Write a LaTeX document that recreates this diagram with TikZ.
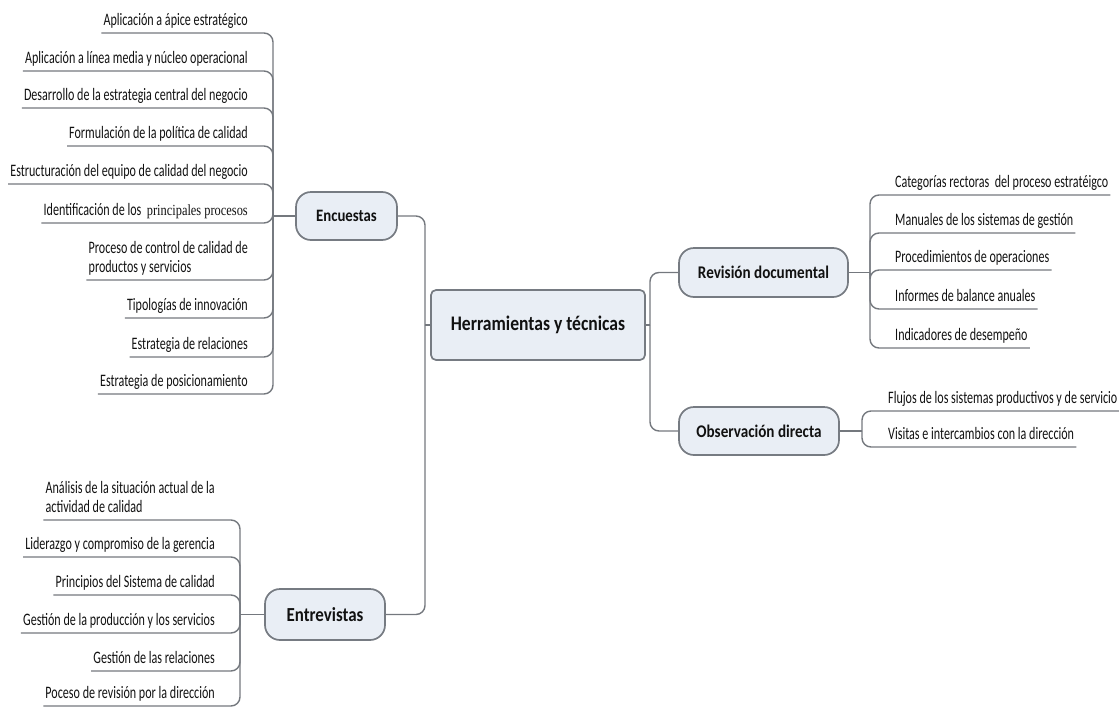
\documentclass[tikz,border=0pt]{standalone}
\usepackage{fontspec}
\setmainfont{Carlito}[FakeStretch=0.69, BoldFeatures={FakeStretch=0.85}]
\newfontfamily\serifpart{Liberation Serif}[FakeStretch=0.8]
\usetikzlibrary{positioning}

\definecolor{boxfill}{HTML}{E9EEF5}
\definecolor{boxline}{HTML}{767B82}
\definecolor{branchgray}{HTML}{74787E}
\definecolor{inktext}{HTML}{111111}

\tikzset{
  rootbox/.style={draw=boxline, fill=boxfill, line width=1.7pt, rounded corners=5pt,
    minimum width=214pt, minimum height=70pt, text=inktext,
    font=\fontsize{20.7}{24}\selectfont\bfseries},
  topicbox/.style={draw=boxline, fill=boxfill, line width=1.7pt, rounded corners=15pt,
    minimum height=48pt, text=inktext, font=\fontsize{17.8}{21}\selectfont\bfseries},
  leafl/.style={anchor=south east, align=left, inner xsep=2pt, inner ysep=3pt,
    text depth=4pt, text=inktext, font=\fontsize{17.5}{19}\selectfont},
  leafr/.style={leafl, anchor=south west},
  branch/.style={draw=branchgray, line width=1.4pt, rounded corners=9pt}
}

\begin{document}
\begin{tikzpicture}[x=1pt,y=-1pt]
\useasboundingbox (0,0) rectangle (1119,707);

% central topic
\node[rootbox] (root) at (538,325) {Herramientas y técnicas};

% main branches
\node[topicbox, minimum width=101pt, font=\fontsize{17.4}{20}\selectfont\bfseries] (enc) at (346.5,216) {Encuestas};
\node[topicbox, minimum width=120pt, minimum height=51pt, font=\fontsize{19.9}{23}\selectfont\bfseries] (ent) at (325,614.5) {Entrevistas};
\node[topicbox, minimum width=169pt, minimum height=49pt] (rev) at (763.5,272.5) {Revisión documental};
\node[topicbox, minimum width=160pt] (obs) at (759,431) {Observación directa};

\coordinate (lj) at (425,325);
\coordinate (rj) at (650,325);
\draw[branch] (root.west) -- (lj);
\draw[branch] (lj) |- (enc.east);
\draw[branch] (lj) |- (ent.east);
\draw[branch] (root.east) -- (rj);
\draw[branch] (rj) |- (rev.west);
\draw[branch] (rj) |- (obs.west);

% Encuestas
\coordinate (encj) at (273,216);
\draw[branch] (enc.west) -- (encj);
\node[leafl] (enc1) at (250,33) {Aplicación a ápice estratégico};
\node[leafl] (enc2) at (250,71) {Aplicación a línea media y núcleo operacional};
\node[leafl] (enc3) at (250,108) {Desarrollo de la estrategia central del negocio};
\node[leafl] (enc4) at (250,146) {Formulación de la política de calidad};
\node[leafl] (enc5) at (250,184) {Estructuración del equipo de calidad del negocio};
\node[leafl] (enc6) at (250,223) {Identificación de los\ \ {\serifpart\fontsize{15.5}{17}\selectfont principales procesos}};
\node[leafl] (enc7) at (250,280) {Proceso de control de calidad de\\productos y servicios};
\node[leafl] (enc8) at (250,318) {Tipologías de innovación};
\node[leafl] (enc9) at (250,357) {Estrategia de relaciones};
\node[leafl] (enc10) at (250,394) {Estrategia de posicionamiento};
\draw[branch] (encj) |- (enc1.south west);
\draw[branch] (encj) |- (enc2.south west);
\draw[branch] (encj) |- (enc3.south west);
\draw[branch] (encj) |- (enc4.south west);
\draw[branch] (encj) |- (enc5.south west);
\draw[branch] (encj) |- (enc6.south west);
\draw[branch] (encj) |- (enc7.south west);
\draw[branch] (encj) |- (enc8.south west);
\draw[branch] (encj) |- (enc9.south west);
\draw[branch] (encj) |- (enc10.south west);

% Entrevistas
\coordinate (entj) at (240,614.5);
\draw[branch] (ent.west) -- (entj);
\node[leafl] (ent1) at (217,520) {Análisis de la situación actual de la\\actividad de calidad};
\node[leafl] (ent2) at (217,557) {Liderazgo y compromiso de la gerencia};
\node[leafl] (ent3) at (217,595) {Principios del Sistema de calidad};
\node[leafl] (ent4) at (217,633) {Gestión de la producción y los servicios};
\node[leafl] (ent5) at (217,671) {Gestión de las relaciones};
\node[leafl] (ent6) at (217,706) {Poceso de revisión por la dirección};
\draw[branch] (entj) |- (ent1.south west);
\draw[branch] (entj) |- (ent2.south west);
\draw[branch] (entj) |- (ent3.south west);
\draw[branch] (entj) |- (ent4.south west);
\draw[branch] (entj) |- (ent5.south west);
\draw[branch] (entj) |- (ent6.south west);

% Revision documental
\coordinate (revj) at (870,272.5);
\draw[branch] (rev.east) -- (revj);
\node[leafr] (rev1) at (893,195) {Categorías rectoras\ \ del proceso estratéigco};
\node[leafr] (rev2) at (893,233) {Manuales de los sistemas de gestión};
\node[leafr] (rev3) at (893,270) {Procedimientos de operaciones};
\node[leafr] (rev4) at (893,309) {Informes de balance anuales};
\node[leafr] (rev5) at (893,348) {Indicadores de desempeño};
\draw[branch] (revj) |- (rev1.south east);
\draw[branch] (revj) |- (rev2.south east);
\draw[branch] (revj) |- (rev3.south east);
\draw[branch] (revj) |- (rev4.south east);
\draw[branch] (revj) |- (rev5.south east);

% Observacion directa
\coordinate (obsj) at (862,431);
\draw[branch] (obs.east) -- (obsj);
\node[leafr] (obs1) at (886,411) {Flujos de los sistemas productivos y de servicio};
\node[leafr] (obs2) at (886,447) {Visitas e intercambios con la dirección};
\draw[branch] (obsj) |- (obs1.south east);
\draw[branch] (obsj) |- (obs2.south east);
\end{tikzpicture}
\end{document}
